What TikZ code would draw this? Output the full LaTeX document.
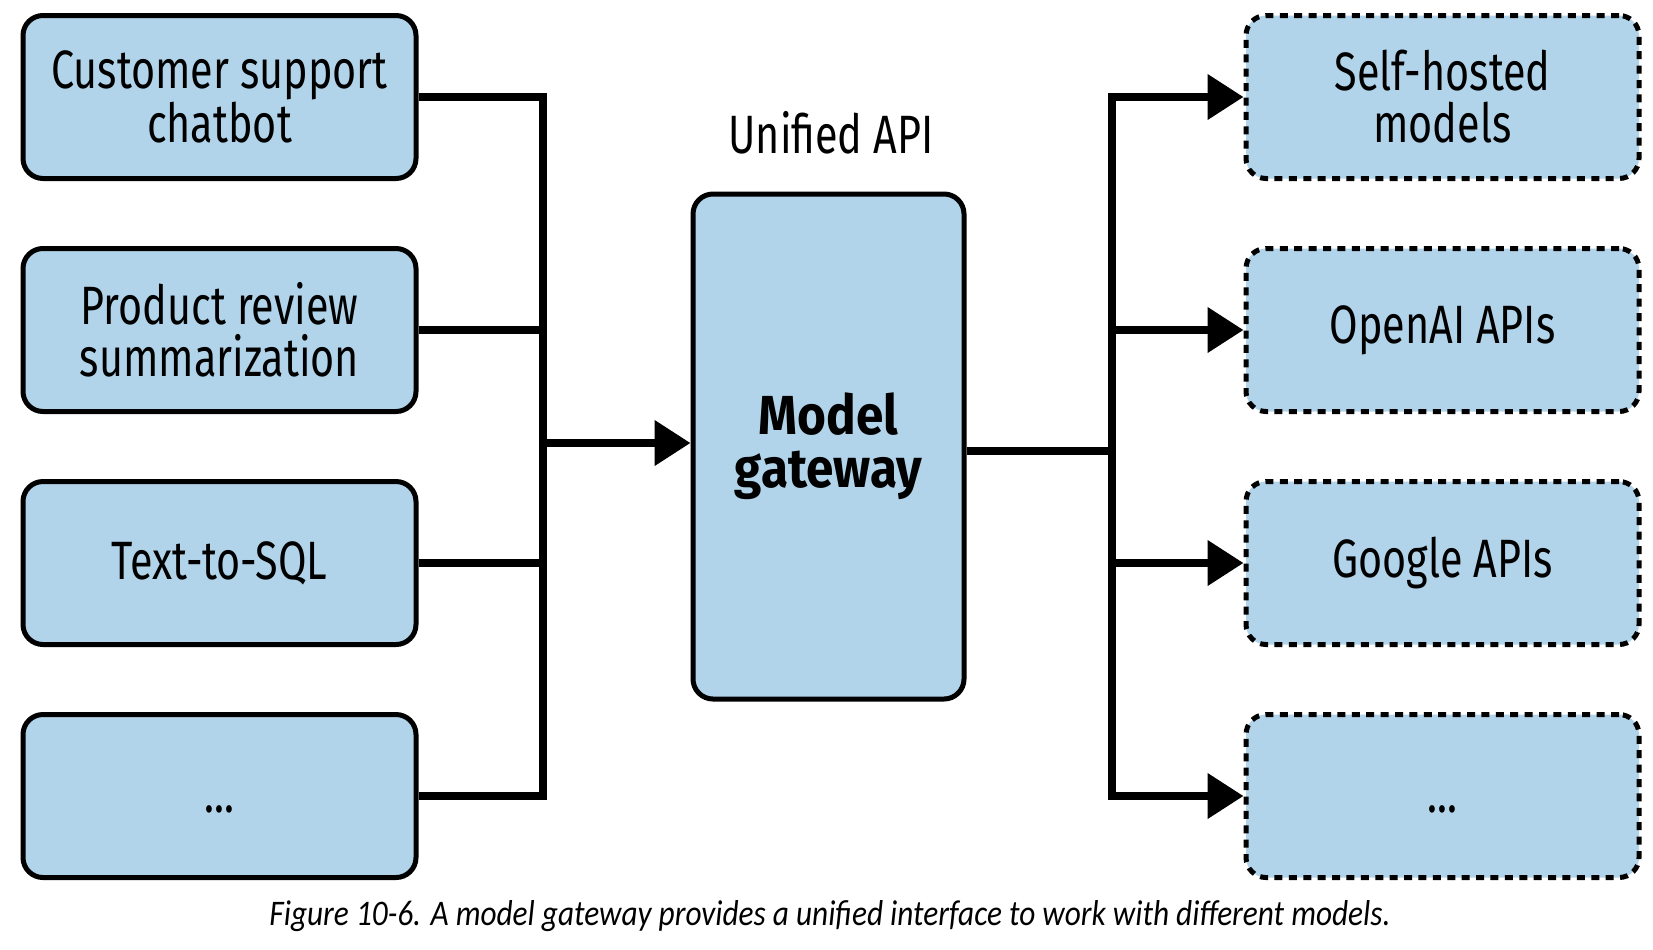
\documentclass[tikz,border=0pt]{standalone}
\usepackage{fontspec}
\setmainfont{Fira Sans}[FakeStretch=0.765, BoldFeatures={FakeStretch=0.9}]
\newfontfamily\capfont{Carlito}[FakeStretch=0.87]
\usetikzlibrary{arrows.meta}
\definecolor{boxblue}{RGB}{177,212,234}

\begin{document}
\begin{tikzpicture}[x=0.5pt,y=-0.5pt]
   \tikzstyle{every node}=[font=\fontsize{27}{26}\selectfont, align=center, inner sep=0pt]
   \tikzstyle{app}=[draw, line width=2.5pt, rounded corners=10pt, fill=boxblue, minimum width=196.5pt, minimum height=81.5pt]
   \tikzstyle{provider}=[app, dash pattern=on 4pt off 3.2pt]
   \tikzstyle{conn}=[line width=3.8pt]
   \tikzstyle{arr}=[conn, -{Triangle[length=18pt,width=22pt]}]

   \useasboundingbox (0,0) rectangle (1653,949);

% applications
\node[app] (chatbot) at (219.5,97) {Customer support\\chatbot};
\node[app] (review) at (219.5,330) {Product review\\summarization};
\node[app] (sql) at (219.5,563) {Text-to-SQL};
\node[app] (appmore) at (219.5,796) {\vphantom{TQ}...};

% gateway
\node[app, minimum width=135.5pt, minimum height=252.5pt, font=\fontsize{27.5}{26.5}\selectfont\bfseries] (gw) at (828.5,446.5) {Model\\gateway};
\node[anchor=base] (api) at (831,153) {Unified API};

% model providers
\node[provider] (selfhost) at (1442.5,97) {Self-hosted\\models};
\node[provider] (openai) at (1442.5,330) {OpenAI APIs};
\node[provider] (google) at (1442.5,563) {Google APIs};
\node[provider] (provmore) at (1442.5,796) {\vphantom{TQ}...};

\coordinate (lbar) at (543,443);
\coordinate (rbar) at (1112,451);

\draw[conn] (chatbot.east) -| (lbar) |- (appmore.east);
\draw[conn] (review.east) -| (lbar);
\draw[conn] (sql.east) -| (lbar);
\draw[arr] (lbar) -- (lbar -| gw.west);

\draw[conn] (rbar -| gw.east) -- (rbar);
\foreach \p in {selfhost, openai, google, provmore}
    \draw[arr] (rbar) |- (\p.west);

\node[anchor=base, font=\capfont\itshape\fontsize{18}{20}\selectfont] (caption) at (830,925)
    {Figure 10-6. A model gateway provides a unified interface to work with different models.};

\end{tikzpicture}
\end{document}
